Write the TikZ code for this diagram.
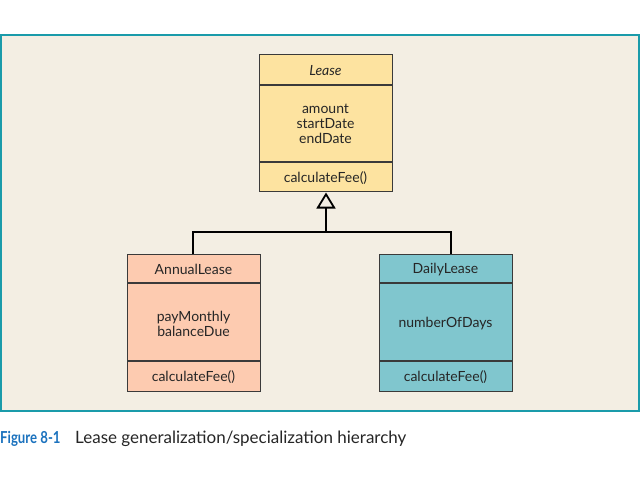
\documentclass[tikz,border=0pt]{standalone}
\usepackage{fontspec}
\setmainfont{Lato}
\usetikzlibrary{arrows.meta}
\definecolor{framec}{HTML}{1A9BAA}
\definecolor{bgc}{HTML}{F3EEE3}
\definecolor{leasec}{HTML}{FDE3A0}
\definecolor{annualc}{HTML}{FDCBB0}
\definecolor{dailyc}{HTML}{80C6CE}
\definecolor{edgec}{HTML}{3A3A3A}
\definecolor{capc}{HTML}{1B72BE}
\tikzset{
  classbox/.style={draw=edgec, line width=1.3pt, minimum width=133pt, minimum height=137pt, inner sep=0pt, anchor=north west},
  lbl/.style={font=\fontsize{14}{15}\selectfont, text=black!85, align=center, inner sep=0pt},
  divider/.style={draw=edgec, line width=1.3pt},
  conn/.style={draw=black, line width=1.8pt}
}
\begin{document}
\begin{tikzpicture}[x=1pt,y=-1pt]
\useasboundingbox (0,0) rectangle (640,480);
\fill[white] (0,0) rectangle (640,480);
\draw[framec, line width=2pt, fill=bgc] (1,35) rectangle (639,411);
% Lease
\node[classbox, fill=leasec] (lease) at (259,54) {};
\draw[divider] (259,85) -- (392,85);
\draw[divider] (259,162) -- (392,162);
\node[lbl] (leaseT) at (325.5,70.5) {\itshape Lease};
\node[lbl] (leaseA) at (325.5,124) {amount\\startDate\\endDate};
\node[lbl] (leaseO) at (325.5,178) {calculateFee()};
% AnnualLease
\node[classbox, fill=annualc] (annual) at (127,254) {};
\draw[divider] (127,283) -- (260,283);
\draw[divider] (127,361) -- (260,361);
\node[lbl] (annualT) at (193.5,269) {AnnualLease};
\node[lbl] (annualA) at (193.5,323.5) {payMonthly\\balanceDue};
\node[lbl] (annualO) at (193.5,377) {calculateFee()};
% DailyLease
\node[classbox, fill=dailyc] (daily) at (379,254) {};
\draw[divider] (379,283) -- (512,283);
\draw[divider] (379,361) -- (512,361);
\node[lbl] (dailyT) at (445.5,269.5) {DailyLease};
\node[lbl] (dailyA) at (445.5,323.5) {numberOfDays};
\node[lbl] (dailyO) at (445.5,377) {calculateFee()};
% connectors
\coordinate (mid) at (326,232);
\draw[conn] (annual.north -| 193,0) |- (mid) -| (daily.north -| 451,0);
\draw[conn, -{Triangle[open, width=19pt, length=16pt, line width=1.8pt]}] (mid) -- (326,192.5);
% caption
\node[anchor=base west, inner sep=0pt, font=\fontsize{16.5}{18}\selectfont\bfseries, text=capc] (fig) at (0,443) {\scalebox{0.8}[1]{Figure 8-1}};
\node[anchor=base west, inner sep=0pt, font=\fontsize{17}{19}\selectfont, text=black!85] (cap) at (75,443) {Lease generalization/specialization hierarchy};
\end{tikzpicture}
\end{document}
